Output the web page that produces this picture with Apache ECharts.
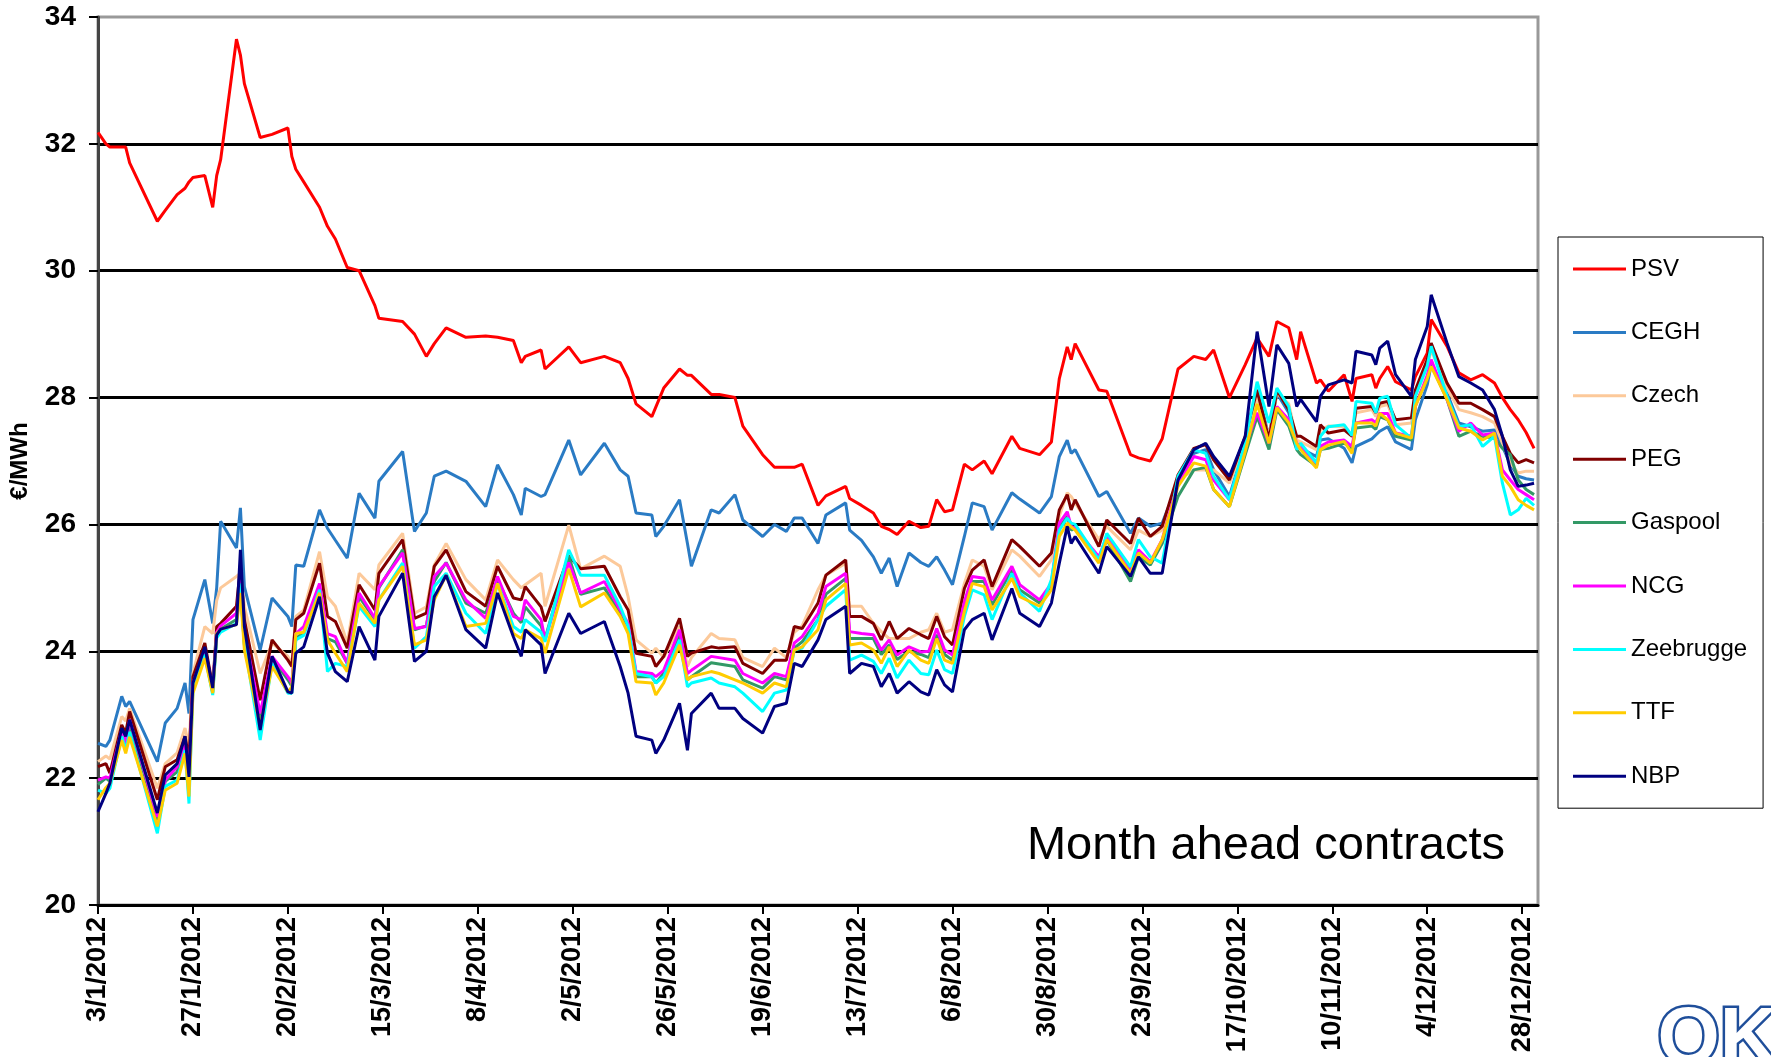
<!DOCTYPE html>
<html>
<head>
<meta charset="utf-8">
<script src="https://cdn.jsdelivr.net/npm/echarts@6/dist/echarts.min.js"></script>
<style>
html,body{margin:0;padding:0;background:#fff;}
#chart{width:1771px;height:1057px;}
</style>
</head>
<body>
<div id="chart"></div>
<script>
// ---- data ----
const dates = ['2012-01-03','2012-01-05','2012-01-06','2012-01-09','2012-01-10','2012-01-11','2012-01-18','2012-01-20','2012-01-23','2012-01-25','2012-01-26','2012-01-27','2012-01-30','2012-02-01','2012-02-02','2012-02-03','2012-02-07','2012-02-08','2012-02-09','2012-02-13','2012-02-16','2012-02-20','2012-02-21','2012-02-22','2012-02-24','2012-02-28','2012-03-01','2012-03-03',
'2012-03-06','2012-03-09','2012-03-13','2012-03-14','2012-03-20','2012-03-23','2012-03-26','2012-03-28','2012-03-31','2012-04-05','2012-04-10','2012-04-13','2012-04-17','2012-04-19','2012-04-20','2012-04-24','2012-04-25','2012-05-01','2012-05-04',
'2012-05-10','2012-05-14','2012-05-16','2012-05-18','2012-05-22','2012-05-23','2012-05-25','2012-05-29','2012-05-31','2012-06-01','2012-06-06','2012-06-08','2012-06-12','2012-06-14','2012-06-19','2012-06-22','2012-06-25','2012-06-27','2012-06-29','2012-07-03',
'2012-07-05','2012-07-10','2012-07-11','2012-07-14','2012-07-17','2012-07-19','2012-07-21','2012-07-23','2012-07-26','2012-07-29','2012-07-31','2012-08-02','2012-08-04','2012-08-06','2012-08-09','2012-08-11','2012-08-14','2012-08-16','2012-08-21','2012-08-23','2012-08-28','2012-08-31','2012-09-02',
'2012-09-04','2012-09-05','2012-09-06','2012-09-12','2012-09-14','2012-09-20','2012-09-22','2012-09-25','2012-09-28','2012-10-02','2012-10-06','2012-10-09','2012-10-11','2012-10-15','2012-10-19','2012-10-22','2012-10-25','2012-10-27','2012-10-30','2012-11-01',
'2012-11-02','2012-11-06','2012-11-07','2012-11-09','2012-11-13','2012-11-15','2012-11-16','2012-11-20','2012-11-21','2012-11-22','2012-11-24','2012-11-26','2012-11-30','2012-12-01','2012-12-04','2012-12-05','2012-12-09','2012-12-12','2012-12-15','2012-12-18','2012-12-21','2012-12-23','2012-12-25','2012-12-27','2012-12-29','2012-12-31'];

const PSV = [32.18,32.0,31.95,31.95,31.95,31.7,30.78,30.95,31.2,31.3,31.4,31.47,31.5,31.0,31.5,31.75,33.65,33.4,32.95,32.1,32.15,32.25,31.8,31.6,31.4,31.0,30.7,30.5,
30.05,30.0,29.45,29.25,29.2,29.0,28.65,28.85,29.1,28.95,28.97,28.95,28.9,28.55,28.65,28.75,28.45,28.8,28.55,
28.65,28.55,28.3,27.9,27.7,27.85,28.15,28.45,28.35,28.35,28.05,28.05,28.0,27.55,27.1,26.9,26.9,26.9,26.95,26.3,
26.45,26.6,26.41,26.3,26.18,25.97,25.92,25.84,26.05,25.95,25.97,26.39,26.2,26.23,26.95,26.86,27.0,26.8,27.39,27.2,27.1,27.3,28.3,
28.8,28.6,28.85,28.12,28.1,27.1,27.05,27.0,27.35,28.45,28.65,28.6,28.75,28.0,28.52,28.94,28.65,29.2,29.1,28.6,
29.04,28.23,28.28,28.1,28.36,27.94,28.3,28.36,28.15,28.3,28.49,28.25,28.12,28.33,28.7,29.23,28.81,28.39,28.28,28.36,28.23,28.0,27.81,27.65,27.45,27.2];

const CEGH = [22.55,22.5,22.6,23.29,23.13,23.21,22.26,22.87,23.10,23.50,23.02,24.50,25.13,24.44,25.0,26.05,25.63,26.26,25.02,24.02,24.84,24.55,24.39,25.36,25.34,26.23,25.94,25.75,
25.47,26.49,26.10,26.68,27.15,25.89,26.18,26.76,26.84,26.68,26.28,26.94,26.47,26.15,26.57,26.44,26.47,27.33,26.78,
27.28,26.86,26.76,26.18,26.15,25.81,25.97,26.39,25.70,25.34,26.23,26.18,26.47,26.07,25.81,26.0,25.89,26.1,26.1,25.7,
26.15,26.34,25.91,25.75,25.49,25.23,25.47,25.02,25.55,25.4,25.34,25.49,25.28,25.05,25.81,26.34,26.28,25.91,26.5,26.4,26.18,26.44,27.07,
27.33,27.12,27.18,26.44,26.52,25.86,26.1,25.97,26.02,26.65,27.12,27.18,26.86,26.44,27.28,28.12,27.39,28.07,27.76,27.28,
27.2,27.07,27.33,27.35,27.2,26.97,27.23,27.35,27.41,27.47,27.54,27.3,27.18,27.65,28.2,28.52,28.07,27.6,27.54,27.47,27.49,27.23,26.95,26.76,26.72,26.7];

const Czech = [22.26,22.35,22.3,22.97,22.9,23.1,21.84,22.23,22.4,22.79,22.5,23.65,24.39,24.28,24.8,25.0,25.18,25.23,24.71,23.65,24.13,23.92,23.8,24.55,24.65,25.57,24.86,24.71,
24.13,25.23,24.97,25.36,25.86,24.6,24.7,25.36,25.7,25.13,24.81,25.44,25.13,25.0,25.05,25.23,24.71,25.99,25.3,
25.5,25.34,24.86,24.18,23.97,24.05,23.9,24.39,23.76,23.9,24.28,24.2,24.18,23.9,23.76,24.05,23.9,24.3,24.4,24.97,
25.2,25.39,24.71,24.71,24.44,24.31,24.2,24.2,24.2,24.3,24.34,24.6,24.3,24.34,25.07,25.44,25.34,24.97,25.6,25.5,25.18,25.44,26.13,
26.5,26.44,26.34,25.76,25.97,25.6,25.91,25.81,25.91,26.7,26.86,26.86,26.86,26.65,27.3,28.0,27.39,28.07,27.9,27.33,
27.3,27.18,27.49,27.55,27.54,27.39,27.76,27.81,27.7,27.86,27.89,27.57,27.6,28.02,28.5,28.75,28.15,27.81,27.76,27.7,27.6,27.28,26.97,26.81,26.84,26.84];

const PEG = [22.18,22.23,22.08,22.84,22.71,23.05,21.66,22.18,22.29,22.66,22.3,23.60,24.13,23.44,24.39,24.44,24.71,25.34,24.50,23.23,24.18,23.86,23.76,24.50,24.60,25.39,24.55,24.47,
24.05,25.05,24.65,25.23,25.76,24.52,24.6,25.34,25.6,24.94,24.71,25.34,24.84,24.81,25.02,24.7,24.47,25.5,25.3,
25.34,24.86,24.65,23.97,23.92,23.76,23.92,24.52,23.92,23.97,24.07,24.05,24.07,23.81,23.65,23.86,23.86,24.39,24.36,24.76,
25.2,25.44,24.55,24.55,24.44,24.18,24.47,24.2,24.36,24.26,24.2,24.55,24.23,24.1,24.99,25.28,25.44,25.02,25.76,25.65,25.34,25.55,26.23,
26.47,26.23,26.39,25.65,26.07,25.7,26.1,25.81,25.97,26.78,27.2,27.26,27.02,26.7,27.39,28.12,27.33,28.12,27.81,27.39,
27.39,27.23,27.57,27.44,27.49,27.39,27.83,27.86,27.76,27.91,27.94,27.65,27.68,28.12,28.6,28.86,28.23,27.91,27.91,27.81,27.7,27.39,27.12,26.97,27.02,26.97];

const Gaspool = [21.90,22.0,21.95,22.73,22.5,22.85,21.34,21.95,22.1,22.5,21.9,23.45,23.95,23.35,24.25,24.35,24.5,25.0,24.1,22.9,23.9,23.55,23.45,24.2,24.3,25.0,24.2,24.15,
23.81,24.86,24.5,25.0,25.6,24.34,24.4,25.1,25.4,24.76,24.6,25.13,24.6,24.45,24.7,24.4,24.2,25.5,24.9,
25.0,24.6,24.4,23.6,23.6,23.5,23.65,24.25,23.55,23.6,23.82,23.8,23.76,23.55,23.42,23.6,23.55,24.05,24.15,24.5,
24.9,25.15,24.2,24.2,24.2,23.95,24.1,23.87,24.0,23.95,23.9,24.26,23.95,23.86,24.73,25.1,25.1,24.73,25.28,24.97,24.76,25.05,25.95,
26.13,25.91,25.95,25.42,25.76,25.1,25.49,25.36,25.7,26.44,26.86,26.9,26.55,26.28,27.1,27.7,27.18,27.81,27.55,27.18,
27.1,26.92,27.18,27.2,27.28,27.2,27.52,27.55,27.5,27.7,27.65,27.39,27.33,27.89,28.3,28.52,27.97,27.39,27.47,27.39,27.36,27.2,27.1,26.7,26.55,26.47];

const NCG = [21.97,22.02,22.0,22.76,22.55,22.92,21.39,21.97,22.18,22.55,22.0,23.50,24.02,23.4,24.3,24.4,24.60,25.13,24.3,23.02,23.92,23.60,23.5,24.28,24.39,25.07,24.28,24.23,
23.81,24.92,24.52,25.02,25.55,24.36,24.39,25.18,25.39,24.81,24.52,25.18,24.55,24.5,24.81,24.5,24.18,25.4,24.92,
25.1,24.65,24.44,23.68,23.65,23.60,23.7,24.34,23.65,23.7,23.92,23.9,23.86,23.65,23.5,23.65,23.6,24.13,24.23,24.6,
25.02,25.23,24.31,24.28,24.26,24.02,24.18,23.94,24.07,23.99,24.0,24.36,24.02,23.94,24.78,25.18,25.15,24.81,25.34,25.05,24.81,25.07,26.02,
26.2,25.97,25.94,25.49,25.81,25.28,25.6,25.41,25.76,26.65,27.07,27.02,26.7,26.39,27.23,27.76,27.28,27.86,27.65,27.28,
27.23,26.97,27.23,27.3,27.33,27.23,27.6,27.65,27.6,27.75,27.75,27.44,27.39,27.86,28.35,28.6,27.97,27.47,27.6,27.41,27.44,26.86,26.7,26.55,26.47,26.39];

const Zeebrugge = [21.81,21.76,21.84,22.66,22.44,22.73,21.13,21.87,21.97,22.44,21.60,23.39,23.95,23.31,24.21,24.3,24.44,25.07,24.13,22.60,23.81,23.34,23.34,24.18,24.25,24.97,23.68,23.81,
23.76,24.71,24.39,24.81,25.39,24.05,24.23,25.02,25.23,24.60,24.28,25.07,24.39,24.3,24.5,24.3,24.15,25.6,25.2,
25.2,24.71,24.39,23.65,23.6,23.5,23.6,24.18,23.44,23.5,23.58,23.5,23.44,23.34,23.05,23.34,23.39,24.02,24.05,24.5,
24.71,24.97,23.86,23.94,23.84,23.65,23.89,23.58,23.86,23.65,23.63,24.02,23.71,23.65,24.55,24.97,24.89,24.5,25.23,24.92,24.63,25.13,25.91,
26.1,26.02,26.0,25.44,25.86,25.33,25.76,25.49,25.39,26.76,27.18,27.12,26.76,26.39,27.3,28.25,27.6,28.15,27.86,27.18,
27.28,26.97,27.39,27.54,27.57,27.4,27.94,27.91,27.76,27.99,28.02,27.57,27.36,28.02,28.5,28.81,28.02,27.54,27.57,27.23,27.39,26.65,26.15,26.23,26.41,26.3];

const TTF = [21.66,21.85,21.92,22.60,22.39,22.65,21.24,21.81,21.92,22.39,21.71,23.34,23.89,23.34,24.28,24.35,24.42,24.92,24.02,22.81,23.76,23.36,23.44,24.28,24.3,24.92,24.18,23.97,
23.68,24.76,24.44,24.81,25.34,24.1,24.18,24.81,25.2,24.39,24.44,25.07,24.28,24.2,24.34,24.2,23.97,25.3,24.7,
24.92,24.55,24.28,23.52,23.5,23.31,23.5,24.1,23.55,23.6,23.68,23.65,23.55,23.5,23.34,23.5,23.44,24.02,24.07,24.34,
24.81,25.07,24.1,24.13,24.02,23.81,24.07,23.76,24.02,23.86,23.81,24.2,23.86,23.81,24.63,25.07,25.02,24.65,25.15,24.86,24.71,24.97,25.81,
26.02,25.96,25.91,25.39,25.76,25.23,25.55,25.39,25.76,26.6,26.97,26.92,26.55,26.28,27.15,27.9,27.28,27.84,27.6,27.28,
27.18,26.89,27.18,27.25,27.31,27.12,27.6,27.6,27.55,27.75,27.65,27.44,27.36,27.86,28.3,28.49,27.97,27.52,27.47,27.33,27.44,26.76,26.6,26.39,26.3,26.23];

const NBP = [21.47,21.76,21.92,22.79,22.66,22.92,21.45,22.05,22.23,22.66,22.02,23.50,24.07,23.42,24.26,24.35,24.42,25.60,24.39,22.76,23.92,23.36,23.34,23.97,24.07,24.86,23.97,23.68,
23.52,24.39,23.86,24.55,25.23,23.84,24.0,24.86,25.2,24.34,24.05,24.92,24.23,23.92,24.34,24.1,23.65,24.6,24.28,
24.47,23.76,23.34,22.66,22.6,22.39,22.6,23.18,22.44,23.02,23.34,23.10,23.10,22.94,22.71,23.13,23.18,23.81,23.76,24.18,
24.5,24.71,23.65,23.81,23.76,23.44,23.65,23.34,23.52,23.36,23.31,23.71,23.47,23.36,24.34,24.5,24.6,24.18,24.99,24.6,24.39,24.76,25.39,
25.97,25.7,25.81,25.23,25.65,25.18,25.49,25.23,25.23,26.7,27.18,27.28,27.07,26.76,27.39,29.04,27.86,28.83,28.54,27.86,
27.97,27.62,28.02,28.2,28.28,28.23,28.73,28.67,28.52,28.78,28.89,28.36,28.02,28.6,29.12,29.62,28.86,28.33,28.23,28.12,27.81,27.39,26.86,26.6,26.62,26.65];

const xTickLabels = ['3/1/2012','27/1/2012','20/2/2012','15/3/2012','8/4/2012','2/5/2012','26/5/2012','19/6/2012','13/7/2012','6/8/2012','30/8/2012','23/9/2012','17/10/2012','10/11/2012','4/12/2012','28/12/2012'];
const yTicks = [20,22,24,26,28,30,32,34];

const seriesNames = ['PSV','CEGH','Czech','PEG','Gaspool','NCG','Zeebrugge','TTF','NBP'];
const seriesValues = [PSV,CEGH,Czech,PEG,Gaspool,NCG,Zeebrugge,TTF,NBP];
const seriesColors = ['#ff0000','#2a7bc4','#fcc99a','#800000','#339966','#ff00ff','#00ffff','#ffcc00','#000080'];

// ---- build ----
const T0 = Date.UTC(2012,0,3);
function dayOf(s){const p=s.split('-').map(Number);return Math.round((Date.UTC(p[0],p[1]-1,p[2])-T0)/86400000);}
const xDays = dates.map(dayOf);
const FONT = "Arial, 'Liberation Sans', sans-serif";

const chart = echarts.init(document.getElementById('chart'), null, {renderer:'canvas'});
chart.setOption({
  animation:false,
  backgroundColor:'#fff',
  grid:{left:96,top:17,width:1442,height:888,show:true,borderColor:'#999',borderWidth:3,backgroundColor:'transparent'},
  xAxis:{
    type:'value',min:0,max:364,interval:24,
    axisLine:{show:true,onZero:false,lineStyle:{color:'#000',width:3}},
    axisTick:{show:true,length:9,lineStyle:{color:'#000',width:2}},
    splitLine:{show:false},
    axisLabel:{rotate:90,margin:12,fontFamily:FONT,fontWeight:'bold',fontSize:27,color:'#000',showMaxLabel:false,
      formatter:function(v){const i=Math.round(v/24);return (v%24===0 && xTickLabels[i])?xTickLabels[i]:'';}}
  },
  yAxis:{
    type:'value',min:yTicks[0],max:yTicks[yTicks.length-1],interval:2,
    name:'€/MWh',nameLocation:'middle',nameGap:66,nameRotate:90,
    nameTextStyle:{fontFamily:FONT,fontWeight:'bold',fontSize:24,color:'#000'},
    axisLine:{show:true,lineStyle:{color:'#444',width:3}},
    axisTick:{show:true,length:9,lineStyle:{color:'#000',width:2}},
    splitLine:{show:true,showMinLine:false,showMaxLine:false,lineStyle:{color:'#000',width:3}},
    axisLabel:{margin:22,fontFamily:FONT,fontWeight:'bold',fontSize:28,color:'#000'}
  },
  legend:{
    orient:'vertical',left:1558,top:237,
    padding:[20,16,20,15],itemGap:39.4,itemWidth:53,itemHeight:3,
    icon:'rect',
    borderColor:'#000',borderWidth:1,
    textStyle:{fontFamily:FONT,fontSize:24,lineHeight:24,color:'#000'},
    data:seriesNames
  },
  graphic:[
    {type:'text',right:1771-1505,top:823,style:{text:'Month ahead contracts',font:"47px Arial, 'Liberation Sans', sans-serif",fill:'#000'}},
    {type:'text',left:1655,top:998,style:{text:'OK',font:"bold 80px Arial, 'Liberation Sans', sans-serif",fill:'#fff',stroke:'#1f4e9a',lineWidth:5}}
  ],
  series:seriesNames.map(function(n,k){
    return {
      name:n,type:'line',symbol:'none',showSymbol:false,
      lineStyle:{color:seriesColors[k],width:3},
      itemStyle:{color:seriesColors[k]},
      emphasis:{disabled:true},
      data:seriesValues[k].map(function(v,i){return [xDays[i],v];})
    };
  })
});
</script>
</body>
</html>
